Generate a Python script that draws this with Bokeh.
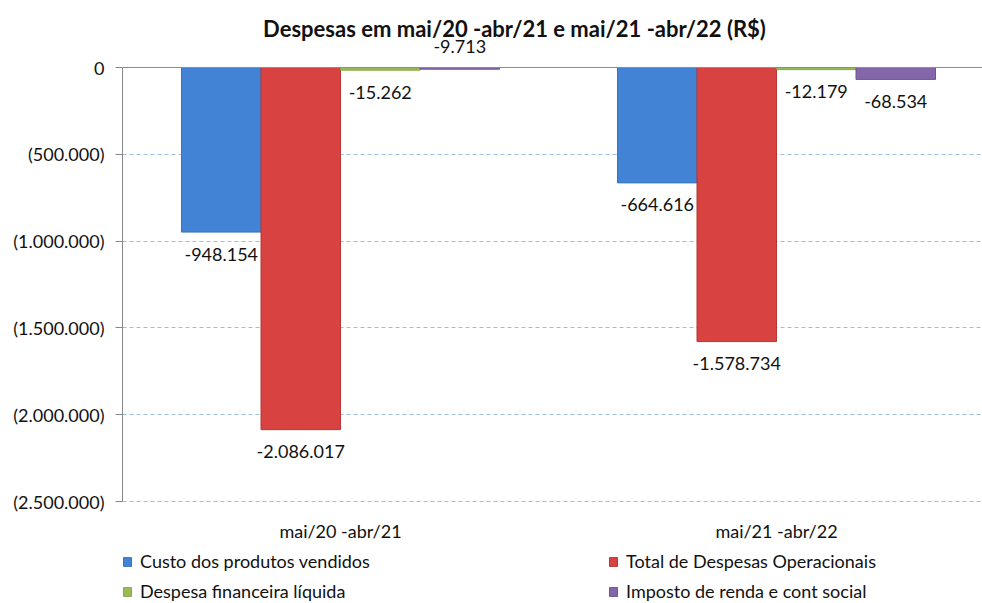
from bokeh.plotting import figure
from bokeh.models import (ColumnDataSource, FixedTicker, Span, LabelSet, Label,
                          Legend, LegendItem)
from bokeh.core.properties import value
from bokeh.embed import file_html
from bokeh.resources import INLINE

# ---- data ----
categories = ["mai/20 -abr/21", "mai/21 -abr/22"]
series_names = ["Custo dos produtos vendidos", "Total de Despesas Operacionais",
                "Despesa financeira líquida", "Imposto de renda e cont social"]
custo = [-948154, -664616]
total_desp = [-2086017, -1578734]
desp_fin = [-15262, -12179]
imposto = [-9713, -68534]
y_ticks = [0, -500000, -1000000, -1500000, -2000000, -2500000]
y_tick_labels = ["0", "(500.000)", "(1.000.000)", "(1.500.000)", "(2.000.000)", "(2.500.000)"]
title_text = "Despesas em mai/20 -abr/21 e mai/21 -abr/22 (R$)"

series_values = [custo, total_desp, desp_fin, imposto]
fills = ["#4383d5", "#d84341", "#9bbb59", "#8466ab"]
edges = ["#3a72bb", "#b53836", "#86a548", "#6d5392"]

FONT = "Lato"
TXT = "#111111"

W, H = 982, 603
LEFT = 122
frame_w = W - LEFT
frame_h = H
px_per_unit = 434 / 2500000
cat_px = 436
zero_px = 67
y_end = zero_px / px_per_unit
y_start = -(H - zero_px) / px_per_unit
y_min = min(y_ticks)

p = figure(width=W, height=H, output_backend="svg", toolbar_location=None,
           title_location=None,
           x_range=(0, frame_w / cat_px), y_range=(y_start, y_end),
           min_border_left=LEFT, min_border_right=0,
           min_border_top=0, min_border_bottom=0)
p.outline_line_color = None
p.background_fill_color = "white"

# title (inside the frame so nothing is clipped)
p.add_layout(Label(x=392, y=frame_h - 28, x_units="screen", y_units="screen",
                   text=title_text, text_align="center", text_baseline="middle",
                   text_font=FONT, text_font_size="22px",
                   text_font_style="bold", text_color=TXT))


def fmt(v):
    s = f"{abs(v):,}".replace(",", ".")
    return ("-" if v < 0 else "") + s


bar_w = 79.5 / cat_px
items = []
for k, (name, vals) in enumerate(zip(series_names, series_values)):
    xs = [i + 0.5 + (k - 1.5) * bar_w for i in range(len(categories))]
    src = ColumnDataSource(dict(
        x=xs, top=vals, lab=[fmt(v) for v in vals],
        yoff=[23 if v > -10000 else -22 for v in vals]))
    r = p.vbar(x="x", top="top", bottom=0, width=bar_w, source=src,
               fill_color=fills[k], line_color=edges[k], line_width=1)
    items.append(LegendItem(label=name, renderers=[r]))
    ls = LabelSet(x="x", y="top", text="lab", y_offset="yoff", source=src,
                  text_align="center", text_baseline="middle",
                  text_font=value(FONT), text_font_size="18px", text_color=TXT)
    p.add_layout(ls)

# category labels (x axis)
cat_src = ColumnDataSource(dict(x=[i + 0.5 for i in range(len(categories))],
                                y=[y_min] * len(categories), lab=categories))
p.add_layout(LabelSet(x="x", y="y", text="lab", y_offset=-29, source=cat_src,
                      text_align="center", text_baseline="middle",
                      text_font=value(FONT), text_font_size="18px", text_color=TXT))
p.xaxis.visible = False

# y axis
p.yaxis.ticker = FixedTicker(ticks=y_ticks)
p.yaxis.major_label_overrides = {t: l for t, l in zip(y_ticks, y_tick_labels)}
p.yaxis.bounds = (y_min, 0)
p.yaxis.axis_line_color = "#868686"
p.yaxis.major_tick_line_color = "#868686"
p.yaxis.major_tick_out = 7
p.yaxis.major_tick_in = 0
p.yaxis.minor_tick_line_color = None
p.yaxis.major_label_standoff = 11
p.yaxis.major_label_text_font = FONT
p.yaxis.major_label_text_font_size = "18px"
p.yaxis.major_label_text_color = TXT

p.xgrid.grid_line_color = None
p.ygrid.ticker = FixedTicker(ticks=y_ticks[1:])
p.ygrid.grid_line_color = "#9dbde0"
p.ygrid.grid_line_dash = "4 3"
p.ygrid.grid_line_width = 1

p.add_layout(Span(location=0, dimension="width", line_color="#8c8c8c", line_width=1))

legend = Legend(items=items, ncols=2, orientation="horizontal",
                location=(0, 1), padding=0, margin=0, spacing=8,
                glyph_width=10, glyph_height=11, label_standoff=8,
                label_width=460, label_height=20,
                label_text_font=FONT, label_text_font_size="18px",
                label_text_color=TXT, border_line_color=None,
                background_fill_alpha=0)
p.add_layout(legend)

open("out.html", "w").write(file_html(p, INLINE))
